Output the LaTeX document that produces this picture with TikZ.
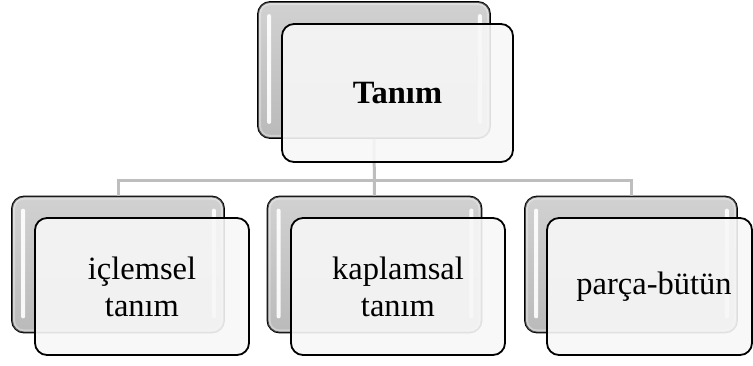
\documentclass[tikz,border=0pt]{standalone}
\usepackage{fontspec}
\setmainfont{Liberation Serif}
\begin{document}
\begin{tikzpicture}[x=1pt,y=-1pt,
  backbox/.style={draw=black, line width=1.8pt, rounded corners=12pt,
    top color=black!18, bottom color=black!27, inner sep=0pt},
  frontbox/.style={draw=black, line width=1.8pt, rounded corners=12pt,
    fill=black!3, fill opacity=0.9, text opacity=1, inner sep=0pt,
    align=center, font=\fontsize{32.5}{37}\selectfont},
  hilite/.style={fill=white, opacity=0.9, rounded corners=2pt},
  glow/.style={draw=white, draw opacity=0.3, line width=3pt, rounded corners=10pt},
  conn/.style={draw={rgb,255:red,190;green,190;blue,190}, line width=3pt}]
\useasboundingbox (0,0) rectangle (753,365);
% back boxes
\node[backbox, minimum width=232pt, minimum height=136pt] (tb) at (374,70) {};
\node[backbox, minimum width=212pt, minimum height=136pt] (lb) at (118,264.5) {};
\node[backbox, minimum width=214pt, minimum height=136pt] (mb) at (374.5,264.5) {};
\node[backbox, minimum width=212pt, minimum height=136pt] (rb) at (631,264.5) {};
% inner glow and highlights
\foreach \b in {tb,lb,mb,rb}{
  \draw[glow] ([xshift=2.5pt,yshift=-2.5pt]\b.north west) rectangle ([xshift=-2.5pt,yshift=2.5pt]\b.south east);
  \fill[hilite] ([xshift=10pt,yshift=-13pt]\b.north west) rectangle ([xshift=14pt,yshift=15pt]\b.south west);
  \fill[hilite] ([xshift=-13pt,yshift=-13pt]\b.north east) rectangle ([xshift=-9pt,yshift=15pt]\b.south east);
}
% connectors
\coordinate (j) at (374,180);
\draw[conn] (lb.north) |- (j) -| (rb.north);
\draw[conn] (tb.south) -- (mb.north);
% front boxes
\node[frontbox, minimum width=231pt, minimum height=138pt] (tf) at (397.5,93) {\textbf{Tanım}};
\node[frontbox, minimum width=214pt, minimum height=137pt] (lf) at (142,286.5) {içlemsel\\tanım};
\node[frontbox, minimum width=214pt, minimum height=137pt] (mf) at (398,286.5) {kaplamsal\\tanım};
\node[frontbox, minimum width=205pt, minimum height=137pt] (rf) at (649.5,286.5) {};
\node[font=\fontsize{32.5}{37}\selectfont, inner sep=0pt] (rt) at (654,286.5) {parça-bütün};
\end{tikzpicture}
\end{document}
